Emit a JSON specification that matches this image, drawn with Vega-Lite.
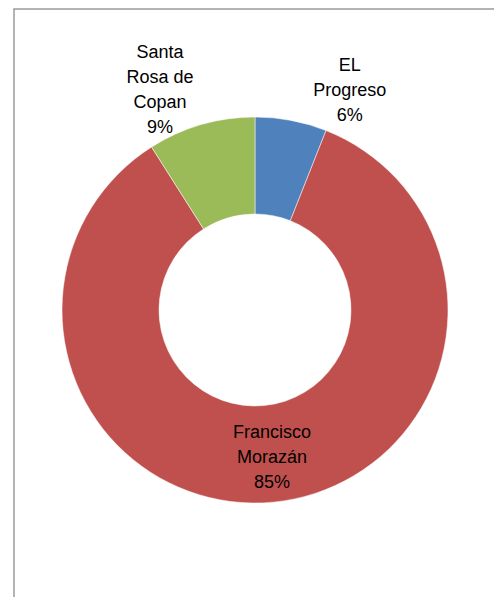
{
  "$schema": "https://vega.github.io/schema/vega-lite/v6.json",
  "width": 482,
  "height": 602,
  "padding": {"left": 14, "top": 9, "right": 0, "bottom": 0},
  "autosize": {"type": "none"},
  "background": "white",
  "view": {"stroke": "#9a9a9a", "strokeWidth": 1.5},
  "data": {
    "values": [
      {"name": "EL Progreso", "label": "EL\nProgreso\n6%", "value": 6, "order": 1},
      {"name": "Francisco Morazán", "label": "Francisco\nMorazán\n85%", "value": 85, "order": 2},
      {"name": "Santa Rosa de Copan", "label": "Santa\nRosa de\nCopan\n9%", "value": 9, "order": 3}
    ]
  },
  "encoding": {
    "theta": {"field": "value", "type": "quantitative", "stack": true},
    "order": {"field": "order", "type": "quantitative"}
  },
  "layer": [
    {
      "mark": {"type": "arc", "innerRadius": 96, "outerRadius": 193, "stroke": "white", "strokeWidth": 0.5},
      "encoding": {
        "color": {
          "field": "name",
          "type": "nominal",
          "scale": {
            "domain": ["EL Progreso", "Francisco Morazán", "Santa Rosa de Copan"],
            "range": ["#4F81BD", "#C0504D", "#9BBB59"]
          },
          "legend": null
        }
      }
    },
    {
      "mark": {"type": "text", "radius": 149, "dx": 3, "dy": -25, "font": "Liberation Sans", "fontSize": 18, "lineBreak": "\n", "lineHeight": 25, "align": "center", "baseline": "middle", "color": "black"},
      "encoding": {
        "text": {"condition": {"test": "datum.name === 'Francisco Morazán'", "field": "label"}, "value": ""}
      }
    },
    {
      "mark": {"type": "text", "radius": 223, "dx": 53, "dy": -25, "font": "Liberation Sans", "fontSize": 18, "lineBreak": "\n", "lineHeight": 25, "align": "center", "baseline": "middle", "color": "black"},
      "encoding": {
        "text": {"condition": {"test": "datum.name === 'EL Progreso'", "field": "label"}, "value": ""}
      }
    },
    {
      "mark": {"type": "text", "radius": 229.7, "dx": -31, "dy": -36, "font": "Liberation Sans", "fontSize": 18, "lineBreak": "\n", "lineHeight": 25, "align": "center", "baseline": "middle", "color": "black"},
      "encoding": {
        "text": {"condition": {"test": "datum.name === 'Santa Rosa de Copan'", "field": "label"}, "value": ""}
      }
    }
  ]
}
